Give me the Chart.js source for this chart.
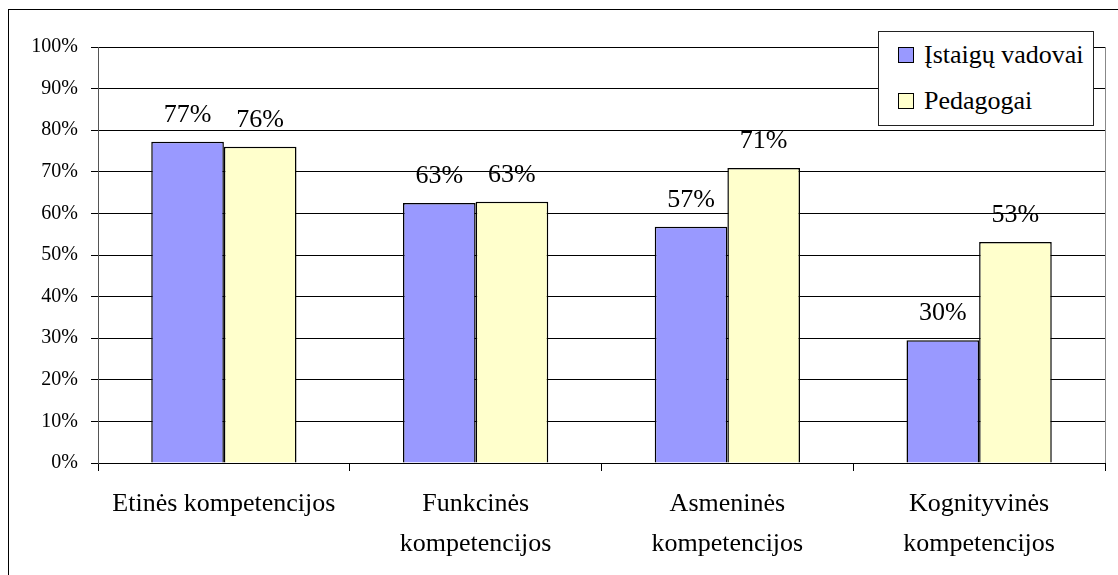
<!DOCTYPE html>
<html>
<head>
<meta charset="utf-8">
<script src="https://cdn.jsdelivr.net/npm/chart.js@4"></script>
<style>
  body { margin: 0; background: #fff; }
  #frame { position: absolute; left: 8px; top: 9px; width: 1200px; height: 700px; border: 1px solid #000; }
  #wrap { position: absolute; left: 0; top: 0; width: 1118px; height: 575px; }
  #legend { position: absolute; left: 878px; top: 31px; width: 214px; height: 93px; border: 1px solid #222;
            background: #fff; font-family: "Times New Roman", "Liberation Serif", "DejaVu Serif", serif; font-size: 26px; color: #000; }
  .row { height: 46px; display: flex; align-items: center; }
  .sw { width: 14px; height: 14px; border: 1px solid #000; margin-left: 19px; margin-right: 10px; }
</style>
</head>
<body>
<div id="frame"></div>
<div id="wrap"><canvas id="c" width="1118" height="575"></canvas></div>
<div id="legend"></div>
<script>
const categories = ['Etinės kompetencijos', ['Funkcinės', 'kompetencijos'], ['Asmeninės', 'kompetencijos'], ['Kognityvinės', 'kompetencijos']];
const seriesNames = ['Įstaigų vadovai', 'Pedagogai'];
const vadovai = [77.2, 62.5, 56.8, 29.5];
const pedagogai = [76.0, 62.8, 70.9, 53.1];
const colors = ['#9999FF', '#FFFFCC'];

const SERIF = '"Times New Roman", "Liberation Serif", "DejaVu Serif", serif';

// legend box
document.getElementById('legend').innerHTML = seriesNames.map((n, i) =>
  `<div class="row"><div class="sw" style="background:${colors[i]}"></div><span>${n}</span></div>`).join('');

const valueLabels = {
  id: 'valueLabels',
  afterDatasetsDraw(chart) {
    const ctx = chart.ctx;
    ctx.save();
    ctx.font = '26px ' + SERIF;
    ctx.fillStyle = '#000';
    ctx.textAlign = 'center';
    ctx.textBaseline = 'bottom';
    chart.data.datasets.forEach((ds, i) => {
      chart.getDatasetMeta(i).data.forEach((bar, j) => {
        ctx.fillText(Math.round(ds.data[j]) + '%', bar.x, bar.y - 14);
      });
    });
    // right edge of plot area
    const a = chart.chartArea;
    ctx.strokeStyle = '#888';
    ctx.lineWidth = 1;
    ctx.beginPath();
    ctx.moveTo(Math.round(a.right) + 0.5, a.top);
    ctx.lineTo(Math.round(a.right) + 0.5, a.bottom);
    ctx.stroke();
    ctx.restore();
  }
};

new Chart(document.getElementById('c'), {
  type: 'bar',
  data: {
    labels: categories,
    datasets: [
      { label: seriesNames[0], data: vadovai, backgroundColor: colors[0], borderColor: '#000', borderWidth: 1.5 },
      { label: seriesNames[1], data: pedagogai, backgroundColor: colors[1], borderColor: '#000', borderWidth: 1.5 }
    ]
  },
  options: {
    responsive: false,
    animation: false,
    categoryPercentage: 0.577,
    barPercentage: 1,
    layout: { padding: { left: 0, right: 13, top: 47, bottom: 0 } },
    plugins: { legend: { display: false }, tooltip: { enabled: false } },
    scales: {
      x: {
        grid: { display: true, drawOnChartArea: false, drawTicks: true, tickLength: 8, color: '#000', offset: true },
        border: { color: '#000', width: 1 },
        ticks: { color: '#000', font: { family: SERIF, size: 26, lineHeight: 1.55 }, maxRotation: 0, autoSkip: false, padding: 13 },
        afterFit: s => { s.height = 112; }
      },
      y: {
        min: 0, max: 100,
        grid: { color: '#000', lineWidth: 1, tickLength: 7 },
        border: { color: '#555', width: 1 },
        ticks: { stepSize: 10, color: '#000', padding: 13, font: { family: SERIF, size: 20 }, callback: v => v + '%' },
        afterFit: s => { s.width = 98; }
      }
    }
  },
  plugins: [valueLabels]
});
</script>
</body>
</html>
